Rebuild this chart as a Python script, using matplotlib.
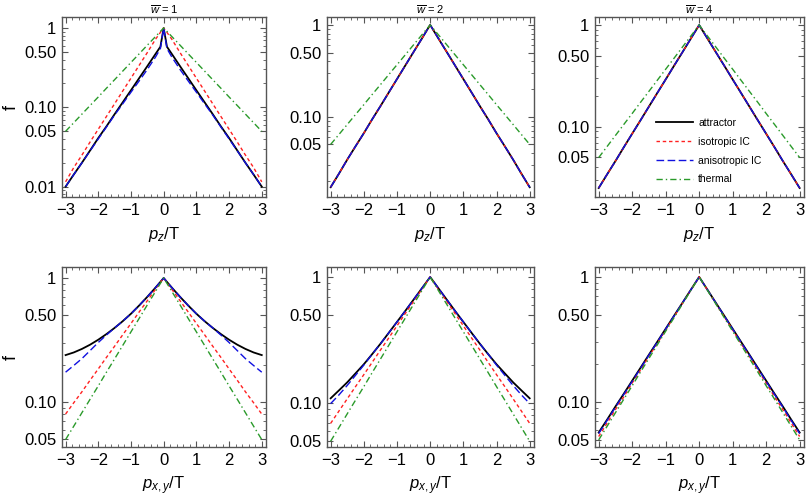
import numpy as np
import matplotlib
matplotlib.use("Agg")
import matplotlib.pyplot as plt
from matplotlib.ticker import FixedLocator, MultipleLocator, LogLocator, NullFormatter

plt.rcParams['font.family'] = ['Liberation Sans', 'DejaVu Sans']
plt.rcParams['mathtext.fontset'] = 'custom'
plt.rcParams['mathtext.rm'] = 'Liberation Sans'
plt.rcParams['mathtext.it'] = 'Liberation Sans:italic'
plt.rcParams['axes.unicode_minus'] = True

# momentum grid (p >= 0 half; curves are symmetric in p)
p_half = [0.0, 0.1, 0.25, 0.5, 0.75, 1.0, 1.25, 1.5, 1.75, 2.0, 2.25, 2.5, 2.75, 3.0]

thermal = [1.0, 0.905, 0.779, 0.607, 0.472, 0.368, 0.2865, 0.223, 0.174, 0.135, 0.1054, 0.0821, 0.0639, 0.0498]

# top row: f vs p_z / T
pz_w1_attractor = [1.0, 0.58, 0.47, 0.33, 0.233, 0.164, 0.116, 0.082, 0.0575, 0.041, 0.0286, 0.020, 0.0142, 0.0100]
pz_w1_iso = [1.0, 0.88, 0.72, 0.49, 0.338, 0.233, 0.161, 0.111, 0.0767, 0.053, 0.0366, 0.025, 0.0174, 0.0115]
pz_w1_aniso = [1.0, 0.55, 0.43, 0.30, 0.215, 0.155, 0.111, 0.080, 0.0565, 0.040, 0.0283, 0.020, 0.0142, 0.0100]

pz_w2_attractor = [1.0, 0.873, 0.71, 0.507, 0.361, 0.257, 0.183, 0.13, 0.0933, 0.066, 0.0475, 0.034, 0.0239, 0.0170]
pz_w2_iso = [1.0, 0.873, 0.71, 0.507, 0.361, 0.257, 0.183, 0.13, 0.0933, 0.066, 0.0475, 0.034, 0.0239, 0.0170]
pz_w2_aniso = [1.0, 0.873, 0.71, 0.507, 0.361, 0.257, 0.183, 0.13, 0.0933, 0.066, 0.0475, 0.034, 0.0239, 0.0170]

pz_w4_attractor = [1.0, 0.884, 0.735, 0.54, 0.398, 0.292, 0.215, 0.158, 0.116, 0.0855, 0.0629, 0.046, 0.034, 0.0250]
pz_w4_iso = [1.0, 0.884, 0.735, 0.54, 0.398, 0.292, 0.215, 0.158, 0.116, 0.0855, 0.0629, 0.046, 0.034, 0.0250]
pz_w4_aniso = [1.0, 0.884, 0.735, 0.54, 0.398, 0.292, 0.215, 0.158, 0.116, 0.0855, 0.0629, 0.046, 0.034, 0.0250]

# bottom row: f vs p_{x,y} / T
pxy_w1_attractor = [1.0, 0.93, 0.836, 0.705, 0.60, 0.515, 0.449, 0.396, 0.353, 0.318, 0.290, 0.268, 0.251, 0.239]
pxy_w1_iso = [1.0, 0.92, 0.81, 0.656, 0.532, 0.43, 0.349, 0.282, 0.229, 0.185, 0.150, 0.121, 0.0987, 0.080]
pxy_w1_aniso = [1.0, 0.93, 0.836, 0.705, 0.60, 0.515, 0.449, 0.396, 0.347, 0.302, 0.260, 0.224, 0.197, 0.174]

pxy_w2_attractor = [1.0, 0.92, 0.813, 0.661, 0.538, 0.44, 0.36, 0.295, 0.244, 0.203, 0.172, 0.146, 0.126, 0.109]
pxy_w2_iso = [1.0, 0.915, 0.80, 0.64, 0.513, 0.41, 0.328, 0.263, 0.21, 0.168, 0.135, 0.108, 0.0864, 0.069]
pxy_w2_aniso = [1.0, 0.92, 0.813, 0.661, 0.538, 0.44, 0.36, 0.295, 0.244, 0.200, 0.166, 0.138, 0.116, 0.099]

pxy_w4_attractor = [1.0, 0.909, 0.788, 0.62, 0.489, 0.385, 0.303, 0.239, 0.188, 0.148, 0.1165, 0.092, 0.0722, 0.057]
pxy_w4_iso = [1.0, 0.907, 0.785, 0.614, 0.48, 0.377, 0.294, 0.232, 0.180, 0.142, 0.110, 0.087, 0.0677, 0.053]
pxy_w4_aniso = [1.0, 0.908, 0.787, 0.618, 0.487, 0.383, 0.301, 0.237, 0.186, 0.146, 0.115, 0.091, 0.0712, 0.056]

titles = [r'$\overline{w}$ = 1', r'$\overline{w}$ = 2', r'$\overline{w}$ = 4']
series_names = ['attractor', 'isotropic IC', 'anisotropic IC', 'thermal']

panels = [
    [(pz_w1_attractor, pz_w1_iso, pz_w1_aniso), (pz_w2_attractor, pz_w2_iso, pz_w2_aniso),
     (pz_w4_attractor, pz_w4_iso, pz_w4_aniso)],
    [(pxy_w1_attractor, pxy_w1_iso, pxy_w1_aniso), (pxy_w2_attractor, pxy_w2_iso, pxy_w2_aniso),
     (pxy_w4_attractor, pxy_w4_iso, pxy_w4_aniso)],
]
ylims = [[(0.0074, 1.375), (0.0133, 1.22), (0.0204, 1.2)],
         [(0.0434, 1.226), (0.0448, 1.2), (0.0437, 1.2)]]
yticks_top = [[0.01, 0.05, 0.1, 0.5, 1], [0.05, 0.1, 0.5, 1], [0.05, 0.1, 0.5, 1]]
ytick_labels = {0.01: '0.01', 0.05: '0.05', 0.1: '0.10', 0.5: '0.50', 1: '1'}
xlabels = [r'$p_z/\mathrm{T}$', r'$p_{x,y}/\mathrm{T}$']

def mirror(vals):
    v = list(vals)
    return v[:0:-1] + v

p_full = [-x for x in p_half[:0:-1]] + p_half

W, H = 806, 497
fig = plt.figure(figsize=(W / 100, H / 100), dpi=100)

lefts = [62, 327, 595]
widths = [204, 207, 209]
tops = [17, 267]
ph = 180

styles = [dict(color='black', lw=1.3, ls='-'),
          dict(color='#ff2020', lw=1.0, ls=(0, (2.5, 2.0))),
          dict(color='#1010e0', lw=1.0, ls=(0, (5.5, 2.5))),
          dict(color='#2a9a2a', lw=1.0, ls=(0, (4.5, 2.2, 1.0, 2.2)))]
frame_col = '#555555'

axes = []
for r in range(2):
    for c in range(3):
        ax = fig.add_axes([lefts[c] / W, 1 - (tops[r] + ph) / H, widths[c] / W, ph / H])
        axes.append(ax)
        att, iso, ani = panels[r][c]
        for vals, st, name in zip([att, iso, ani, thermal], styles, series_names):
            ax.plot(p_full, mirror(vals), label=name, **st)
        ax.set_yscale('log')
        ax.set_xlim(-3.11, 3.13)
        ax.set_ylim(*ylims[r][c])
        yt = yticks_top[c] if r == 0 else [0.05, 0.1, 0.5, 1]
        ax.yaxis.set_major_locator(FixedLocator(yt))
        ax.set_yticklabels([ytick_labels[t] for t in yt])
        ax.yaxis.set_minor_locator(LogLocator(base=10, subs=np.arange(2, 10)))
        ax.yaxis.set_minor_formatter(NullFormatter())
        ax.xaxis.set_major_locator(MultipleLocator(1))
        ax.xaxis.set_minor_locator(MultipleLocator(0.2))
        ax.tick_params(which='both', direction='in', top=True, right=True,
                       color=frame_col, labelsize=12, labelcolor='black')
        ax.tick_params(which='major', length=4, width=0.8, pad=4)
        ax.tick_params(which='minor', length=2, width=0.6)
        for s in ax.spines.values():
            s.set_color(frame_col)
            s.set_linewidth(1.0)
        ax.set_xlabel(xlabels[r], fontsize=12, labelpad=5)
        if c == 0:
            fig.text(11 / W, 1 - (tops[r] + ph / 2) / H, 'f', fontsize=13,
                     rotation=90, ha='center', va='center')
        if r == 0:
            ax.set_title(titles[c], fontsize=8, pad=2)

leg = axes[2].legend(loc='upper left', bbox_to_anchor=(0.29, 0.44), frameon=False,
                     fontsize=7.5, handlelength=3.6, handletextpad=0.5,
                     labelspacing=0.85, borderpad=0, borderaxespad=0)

fig.savefig('out.png', dpi=100)
